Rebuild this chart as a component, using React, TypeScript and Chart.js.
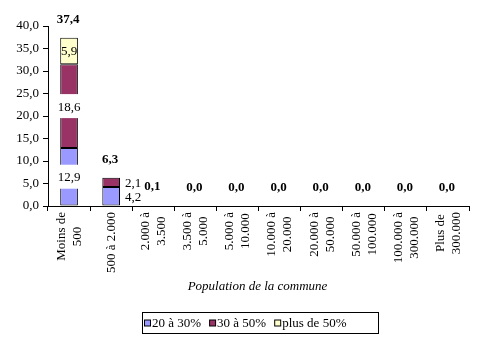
import React, { useEffect, useRef } from "react";
import { Chart, registerables } from "chart.js";

Chart.register(...registerables);

const categories: string[][] = [
  ["Moins de", "500"],
  ["500 à 2.000"],
  ["2.000 à", "3.500"],
  ["3.500 à", "5.000"],
  ["5.000 à", "10.000"],
  ["10.000 à", "20.000"],
  ["20.000 à", "50.000"],
  ["50.000 à", "100.000"],
  ["100.000 à", "300.000"],
  ["Plus de", "300.000"],
];
const seriesNames = ["20 à 30%", "30 à 50%", "plus de 50%"];
const s20a30 = [12.9, 4.2, 0.1, 0, 0, 0, 0, 0, 0, 0];
const s30a50 = [18.6, 2.1, 0, 0, 0, 0, 0, 0, 0, 0];
const sPlus50 = [5.9, 0, 0, 0, 0, 0, 0, 0, 0, 0];
const colors = ["#9999FF", "#993366", "#FFFFCC"];
const labelBoxes = [true, true, false];
const axisTitle = "Population de la commune";

const FONT = "Liberation Serif";
const fmt = (v: number) => v.toFixed(1).replace(".", ",");

const labelsPlugin = {
  id: "customLabels",
  afterDatasetsDraw(chart: any) {
    const ctx = chart.ctx;
    ctx.save();
    ctx.font = `13px "${FONT}"`;
    ctx.textBaseline = "middle";
    ctx.fillStyle = "#000";
    chart.data.datasets.forEach((ds: any, di: number) => {
      const meta = chart.getDatasetMeta(di);
      meta.data.forEach((bar: any, i: number) => {
        const v = ds.data[i];
        if (v < 1) return;
        const h = Math.abs(bar.base - bar.y);
        const cy = (bar.y + bar.base) / 2;
        const txt = fmt(v);
        const tw = ctx.measureText(txt).width;
        if (h >= 22) {
          if (labelBoxes[di]) {
            ctx.fillStyle = "#fff";
            ctx.fillRect(bar.x - Math.max(tw / 2 + 2, bar.width / 2 + 1), cy - 12, Math.max(tw + 4, bar.width + 2), 24);
          }
          ctx.fillStyle = "#000";
          ctx.textAlign = "center";
          ctx.fillText(txt, bar.x, cy + 1);
        } else {
          ctx.fillStyle = "#000";
          ctx.textAlign = "left";
          ctx.fillText(txt, bar.x + bar.width / 2 + 5, cy + 1);
        }
      });
    });
    // totals
    ctx.font = `bold 13px "${FONT}"`;
    ctx.textAlign = "center";
    const yScale = chart.scales.y;
    const xScale = chart.scales.x;
    categories.forEach((_, i) => {
      const total = s20a30[i] + s30a50[i] + sPlus50[i];
      const top = yScale.getPixelForValue(total);
      ctx.fillText(fmt(total), xScale.getPixelForValue(i) - 1, top - 18.5);
    });
    ctx.restore();
  },
  afterDraw(chart: any) {
    const ctx = chart.ctx;
    const xScale = chart.scales.x;
    const area = chart.chartArea;
    ctx.save();
    ctx.fillStyle = "#000";
    ctx.font = `13px "${FONT}"`;
    // x tick labels, rotated
    const lh = 16;
    const yTop = area.bottom + 6;
    categories.forEach((lines, i) => {
      const x = xScale.getPixelForValue(i);
      const W = Math.max(...lines.map((l) => ctx.measureText(l).width));
      ctx.save();
      ctx.translate(x, yTop);
      ctx.rotate(-Math.PI / 2);
      ctx.textAlign = "center";
      ctx.textBaseline = "middle";
      lines.forEach((l, j) => {
        const off = -((lines.length - 1) * lh) / 2 + j * lh + 0.5;
        ctx.fillText(l, -W / 2, off);
      });
      ctx.restore();
    });
    // axis title
    ctx.font = `italic 13px "${FONT}"`;
    ctx.textAlign = "center";
    ctx.textBaseline = "middle";
    ctx.fillText(axisTitle, (area.left + area.right) / 2 - 1, 287);
    // legend
    const boxX = 142, boxY = 312, boxW = 236, boxH = 21;
    ctx.strokeStyle = "#000";
    ctx.lineWidth = 1;
    ctx.strokeRect(boxX + 0.5, boxY + 0.5, boxW, boxH);
    ctx.font = `13px "${FONT}"`;
    ctx.textAlign = "left";
    let lx = boxX + 2;
    const cyL = boxY + boxH / 2 + 1;
    seriesNames.forEach((name, k) => {
      ctx.fillStyle = colors[k];
      ctx.fillRect(lx + 0.5, cyL - 3.5, 6, 6);
      ctx.strokeRect(lx + 0.5, cyL - 3.5, 6, 6);
      ctx.fillStyle = "#000";
      ctx.fillText(name, lx + 8, cyL);
      lx += 8 + ctx.measureText(name).width + 8;
    });
    ctx.restore();
  },
};

export default function App() {
  const ref = useRef<HTMLCanvasElement>(null);
  useEffect(() => {
    document.body.style.margin = "0";
    const chart = new Chart(ref.current!, {
      type: "bar",
      data: {
        labels: categories.map((c) => c.join(" ")),
        datasets: [s20a30, s30a50, sPlus50].map((d, k) => ({
          label: seriesNames[k],
          data: d,
          backgroundColor: colors[k],
          borderColor: "#000",
          borderWidth: 1,
          borderSkipped: false,
          categoryPercentage: 1,
          barPercentage: 0.42,
        })),
      },
      options: {
        responsive: false,
        animation: false,
        devicePixelRatio: 1,
        layout: { padding: { top: 26, right: 14, left: 0, bottom: 0 } },
        plugins: { legend: { display: false }, tooltip: { enabled: false } },
        scales: {
          x: {
            stacked: true,
            offset: true,
            ticks: { display: false },
            grid: { drawOnChartArea: false, tickLength: 5, color: "#000", offset: true },
            border: { color: "#000", width: 1 },
            afterFit: (s: any) => {
              s.height = 136;
            },
          },
          y: {
            stacked: true,
            min: 0,
            max: 40,
            ticks: {
              stepSize: 5,
              color: "#000",
              font: { family: FONT, size: 13 },
              padding: 4,
              callback: (v: any) => fmt(Number(v)),
            },
            grid: { drawOnChartArea: false, tickLength: 5, color: "#000" },
            border: { color: "#000", width: 1 },
            afterFit: (s: any) => {
              s.width = 48;
            },
          },
        },
      },
      plugins: [labelsPlugin],
    });
    return () => chart.destroy();
  }, []);
  return <canvas ref={ref} width={483} height={342} style={{ display: "block" }} />;
}
